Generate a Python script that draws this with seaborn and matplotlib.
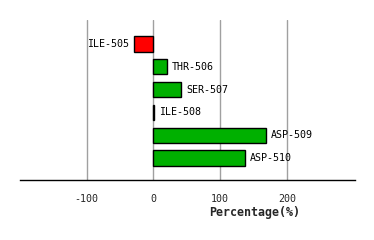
import matplotlib
matplotlib.use("Agg")
import matplotlib.pyplot as plt
import seaborn as sns
import pandas as pd

categories = ["ILE-505", "THR-506", "SER-507", "ILE-508", "ASP-509", "ASP-510"]
values = [-29, 20, 42, 1.5, 168, 137]
tick_values = [-100, 0, 100, 200]
tick_labels = ["-100", "0", "100", "200"]

colors = {c: ("#ff0000" if v < 0 else "#00b000") for c, v in zip(categories, values)}
df = pd.DataFrame({"residue": categories, "pct": values})

sns.set_style("white")
plt.rcParams['font.family'] = ['DejaVu Sans Mono', 'DejaVu Sans']

fig = plt.figure(figsize=(3.74, 2.40), dpi=100)
ax = fig.add_axes([20/374, 60/240, 335/374, 160/240])

sns.barplot(data=df, x="pct", y="residue", hue="residue", palette=colors,
            legend=False, orient="h", width=0.67, edgecolor="black",
            linewidth=1, saturation=1, ax=ax, zorder=3)

for i, (c, v) in enumerate(zip(categories, values)):
    if v < 0:
        ax.annotate(c, xy=(v, i), xytext=(-3.5, 0), textcoords="offset points",
                    ha="right", va="center", fontsize=7.2, color="black")
    else:
        ax.annotate(c, xy=(v, i), xytext=(3.5, 0), textcoords="offset points",
                    ha="left", va="center", fontsize=7.2, color="black")

ax.set_xlim(-200, 302)
ax.set_ylim(5.96, -1.05)
ax.set_xticks(tick_values)
ax.set_xticklabels(tick_labels, fontsize=7.2)
ax.set_yticks([])
ax.set_ylabel("")
ax.set_xlabel("")
for xv in tick_values:
    ax.axvline(xv, color="#a0a0a0", linewidth=1, zorder=1)

for s in ["top", "right", "left"]:
    ax.spines[s].set_visible(False)
ax.spines["bottom"].set_color("black")
ax.spines["bottom"].set_linewidth(1)
ax.tick_params(axis="x", direction="out", length=5, width=1, color="black", pad=5)

ax.text(0.70, -0.205, "Percentage(%)", transform=ax.transAxes, ha="center",
        va="center", fontsize=8.4, fontweight="bold")

fig.savefig("out.png", dpi=100)
